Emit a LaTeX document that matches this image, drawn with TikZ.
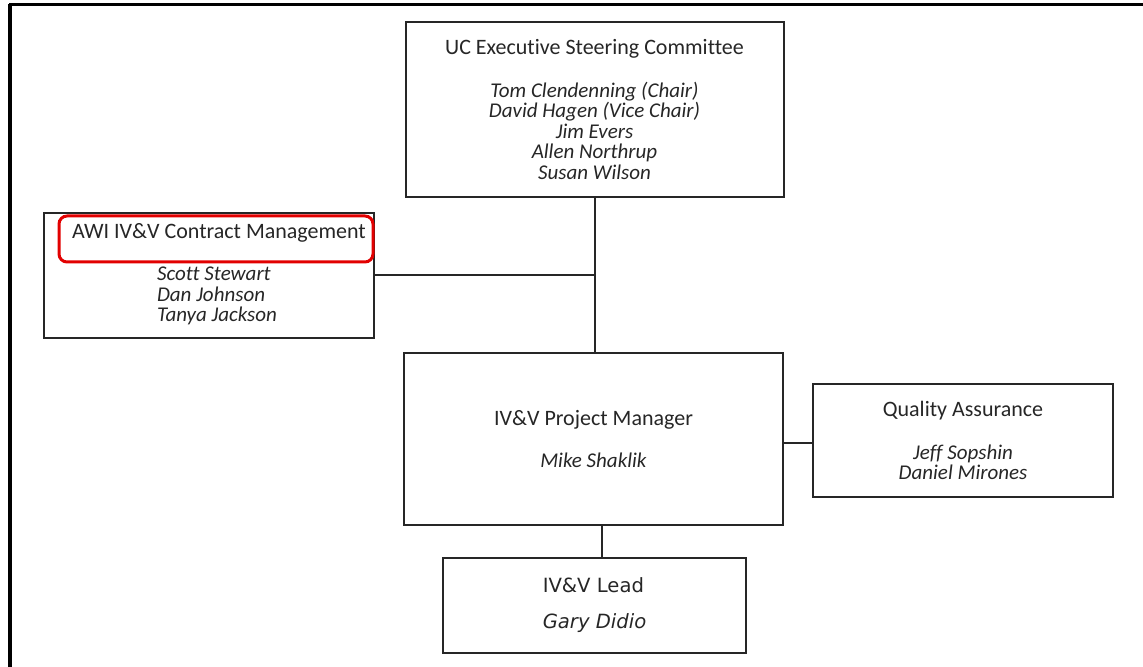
\documentclass[tikz,border=0pt]{standalone}
\usepackage{fontspec}
\setmainfont{Carlito}[Ligatures={NoCommon}]
\newfontfamily\leadfont{DejaVu Sans}
\usepackage{tikz}
\usetikzlibrary{shapes, positioning}
\usepackage{xcolor}
\definecolor{markred}{RGB}{226,0,0}
\newcommand{\hd}{\fontsize{11}{12}\selectfont}

\begin{document}
\begin{tikzpicture}[x=0.5pt, y=-0.5pt]
            \tikzstyle{entity} = [rectangle, draw=black!85, line width=1pt, inner sep=0pt, align=center, text=black!85, font=\fontsize{10.5}{10.25}\selectfont]
            \tikzstyle{caption} = [inner sep=0pt, text=black!85, font=\fontsize{10.5}{10.25}\selectfont]
            \tikzstyle{link} = [line width=1pt, draw=black!85]

            \useasboundingbox (0,0) rectangle (1143,667);
            \draw[line width=2pt] (10,667) -- (10,4);
            \draw[line width=1.5pt] (9,5) -- (1143,5);

            \node (uc)[entity, minimum width=189pt, minimum height=87.5pt] at (594.5,109.5) {{\hd UC Executive Steering Committee}\\[11pt] \textit{Tom Clendenning (Chair)}\\ \textit{David Hagen (Vice Chair)}\\ \textit{Jim Evers}\\ \textit{Allen Northrup}\\ \textit{Susan Wilson}};
            \node (awi)[entity, minimum width=165pt, minimum height=62.5pt] at (209,275.5) {};
            \node (awimark)[rectangle, rounded corners=4pt, draw=markred, line width=1.5pt, minimum width=157pt, minimum height=23pt] at (216,239) {};
            \node (awihead)[caption, font=\hd] at (219,233) {AWI IV\&V Contract Management};
            \node (awinames)[caption, align=left] at (217,296) {\textit{Scott Stewart}\\ \textit{Dan Johnson}\\ \textit{Tanya Jackson}};
            \node (pm)[entity, minimum width=189.5pt, minimum height=86pt] at (593.5,439) {{\hd IV\&V Project Manager}\\[11pt] \textit{Mike Shaklik}};
            \node (qa)[entity, minimum width=150pt, minimum height=56.5pt] at (963,440.5) {{\hd Quality Assurance}\\[11pt] \textit{Jeff Sopshin}\\ \textit{Daniel Mirones}};
            \node (lead)[entity, align=left, font=\leadfont\fontsize{9.8}{18}\selectfont, minimum width=151.5pt, minimum height=47.5pt] at (594.5,605.5) {IV\&V Lead\\ \textit{Gary Didio}};

            \coordinate (pmqa) at ([yshift=-2pt]pm.east);
            \coordinate (pmlead) at ([xshift=4pt]pm.south);
            \draw [link] (uc.south) -- (uc.south |- pm.north);
            \draw [link] (awi.east) -- (awi.east -| uc.south);
            \draw [link] (pmqa) -- (pmqa -| qa.west);
            \draw [link] (pmlead) -- (pmlead |- lead.north);
\end{tikzpicture}
\end{document}
